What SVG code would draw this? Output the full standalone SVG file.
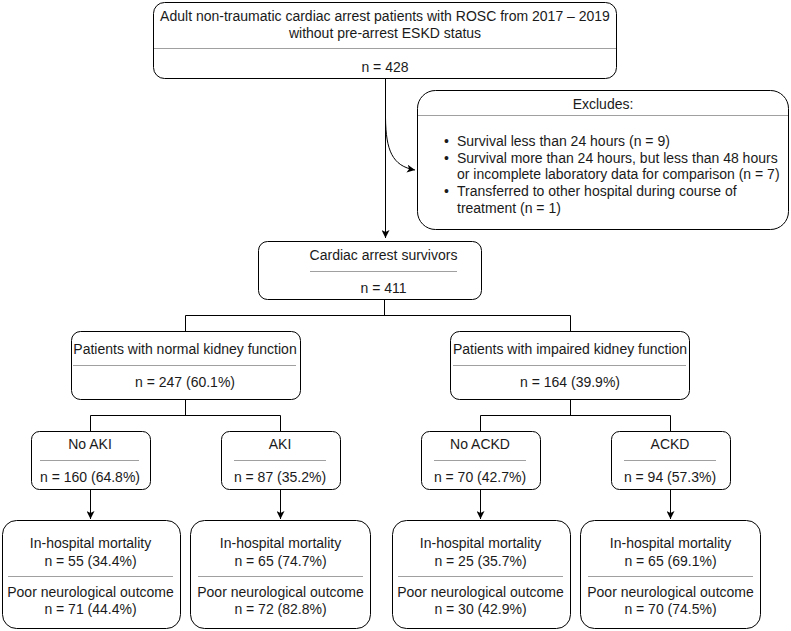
<svg xmlns="http://www.w3.org/2000/svg" width="791" height="631" viewBox="0 0 791 631">
<style>
.box{fill:#fff;stroke:#000;stroke-width:1}
.div{stroke:#a0a0a0;stroke-width:1}
.ln{fill:none;stroke:#000;stroke-width:1}
text{font-family:"Liberation Sans",Arial,sans-serif;font-size:14px;fill:#1a1a1a}
.c{text-anchor:middle}
</style>
<defs>
<marker id="arr" viewBox="0 0 10 10" refX="10" refY="5" markerWidth="8" markerHeight="8" markerUnits="userSpaceOnUse" orient="auto">
<path d="M0,0 L10,5 L0,10 L2.5,5 z" fill="#000"/>
</marker>
</defs>
<rect width="791" height="631" fill="#fff"/>
<g id="connectors">
<path class="ln" d="M385.5,78 V238" marker-end="url(#arr)"/>
<path class="ln" d="M385.5,118 C386,150 392,166 415,170" marker-end="url(#arr)"/>
<path class="ln" d="M384.5,300 V315.5 M185.5,315.5 H570.5 M185.5,315.5 V331 M570.5,315.5 V331"/>
<path class="ln" d="M185.5,400 V415.5 M90.5,415.5 H280.5 M90.5,415.5 V431 M280.5,415.5 V431"/>
<path class="ln" d="M570.5,400 V415.5 M480.5,415.5 H670.5 M480.5,415.5 V431 M670.5,415.5 V431"/>
<path class="ln" d="M90.5,490 V519" marker-end="url(#arr)"/>
<path class="ln" d="M280.5,490 V519" marker-end="url(#arr)"/>
<path class="ln" d="M480.5,490 V519" marker-end="url(#arr)"/>
<path class="ln" d="M670.5,490 V519" marker-end="url(#arr)"/>
</g>
<g id="n_top">
<rect class="box" x="153.5" y="2.5" width="463" height="76" rx="11"/>
<line class="div" x1="154" y1="48.5" x2="616" y2="48.5"/>
<text class="c" x="385" y="21">Adult non-traumatic cardiac arrest patients with ROSC from 2017 – 2019</text>
<text class="c" x="385" y="38">without pre-arrest ESKD status</text>
<text class="c" x="385" y="72">n = 428</text>
</g>
<g id="n_excl">
<rect class="box" x="417.5" y="90.5" width="371" height="139" rx="18"/>
<line class="div" x1="418" y1="115.5" x2="788" y2="115.5"/>
<text class="c" x="603" y="109">Excludes:</text>
<text x="444" y="146">•</text><text x="457" y="146">Survival less than 24 hours (n = 9)</text>
<text x="444" y="163">•</text><text x="457" y="163">Survival more than 24 hours, but less than 48 hours</text>
<text x="457" y="179">or incomplete laboratory data for comparison (n = 7)</text>
<text x="444" y="196">•</text><text x="457" y="196">Transferred to other hospital during course of</text>
<text x="457" y="213">treatment (n = 1)</text>
</g>
<g id="n_surv">
<rect class="box" x="258.5" y="241.5" width="223" height="58" rx="9"/>
<line class="div" x1="310" y1="271.5" x2="457" y2="271.5"/>
<text class="c" x="383.5" y="260">Cardiac arrest survivors</text>
<text class="c" x="383.5" y="293">n = 411</text>
</g>
<g id="n_normal">
<rect class="box" x="71.5" y="331.5" width="229" height="68" rx="9"/>
<line class="div" x1="73" y1="365.5" x2="296" y2="365.5"/>
<text class="c" x="185" y="354">Patients with normal kidney function</text>
<text class="c" x="185" y="387">n = 247 (60.1%)</text>
</g>
<g id="n_impaired">
<rect class="box" x="450.5" y="331.5" width="239" height="68" rx="9"/>
<line class="div" x1="453" y1="365.5" x2="686" y2="365.5"/>
<text class="c" x="570" y="354">Patients with impaired kidney function</text>
<text class="c" x="570" y="387">n = 164 (39.9%)</text>
</g>
<g id="n_noaki">
<rect class="box" x="31.5" y="431.5" width="119" height="58" rx="8"/>
<line class="div" x1="40" y1="460.5" x2="139" y2="460.5"/>
<text class="c" x="90" y="449">No AKI</text>
<text class="c" x="90" y="482">n = 160 (64.8%)</text>
</g>
<g id="n_aki">
<rect class="box" x="221.5" y="431.5" width="119" height="58" rx="8"/>
<line class="div" x1="234" y1="460.5" x2="326" y2="460.5"/>
<text class="c" x="280" y="449">AKI</text>
<text class="c" x="280" y="482">n = 87 (35.2%)</text>
</g>
<g id="n_noackd">
<rect class="box" x="421.5" y="431.5" width="119" height="58" rx="8"/>
<line class="div" x1="434" y1="460.5" x2="526" y2="460.5"/>
<text class="c" x="480" y="449">No ACKD</text>
<text class="c" x="480" y="482">n = 70 (42.7%)</text>
</g>
<g id="n_ackd">
<rect class="box" x="611.5" y="431.5" width="119" height="58" rx="8"/>
<line class="div" x1="624" y1="460.5" x2="716" y2="460.5"/>
<text class="c" x="670" y="449">ACKD</text>
<text class="c" x="670" y="482">n = 94 (57.3%)</text>
</g>
<g id="n_out1">
<rect class="box" x="2.5" y="520.5" width="178" height="108" rx="14"/>
<line class="div" x1="8" y1="576.5" x2="173" y2="576.5"/>
<text class="c" x="90.5" y="548">In-hospital mortality</text>
<text class="c" x="90.5" y="566">n = 55 (34.4%)</text>
<text class="c" x="90.5" y="597">Poor neurological outcome</text>
<text class="c" x="90.5" y="614">n = 71 (44.4%)</text>
</g>
<g id="n_out2">
<rect class="box" x="190.5" y="520.5" width="180" height="108" rx="14"/>
<line class="div" x1="198" y1="576.5" x2="363" y2="576.5"/>
<text class="c" x="280.5" y="548">In-hospital mortality</text>
<text class="c" x="280.5" y="566">n = 65 (74.7%)</text>
<text class="c" x="280.5" y="597">Poor neurological outcome</text>
<text class="c" x="280.5" y="614">n = 72 (82.8%)</text>
</g>
<g id="n_out3">
<rect class="box" x="392.5" y="520.5" width="178" height="108" rx="14"/>
<line class="div" x1="398" y1="576.5" x2="563" y2="576.5"/>
<text class="c" x="480.5" y="548">In-hospital mortality</text>
<text class="c" x="480.5" y="566">n = 25 (35.7%)</text>
<text class="c" x="480.5" y="597">Poor neurological outcome</text>
<text class="c" x="480.5" y="614">n = 30 (42.9%)</text>
</g>
<g id="n_out4">
<rect class="box" x="580.5" y="520.5" width="180" height="108" rx="14"/>
<line class="div" x1="588" y1="576.5" x2="753" y2="576.5"/>
<text class="c" x="670.5" y="548">In-hospital mortality</text>
<text class="c" x="670.5" y="566">n = 65 (69.1%)</text>
<text class="c" x="670.5" y="597">Poor neurological outcome</text>
<text class="c" x="670.5" y="614">n = 70 (74.5%)</text>
</g>
</svg>
